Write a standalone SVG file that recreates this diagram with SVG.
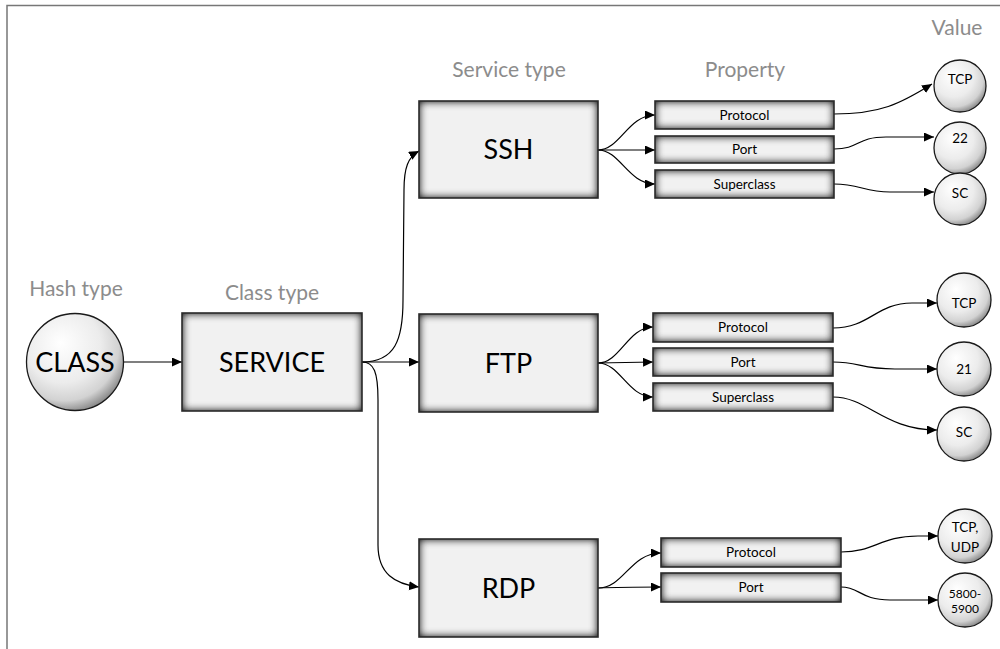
<svg xmlns="http://www.w3.org/2000/svg" width="1000" height="649" viewBox="0 0 1000 649">
  <style>
    text { font-family: Lato, "Liberation Sans", sans-serif; fill: #000; text-anchor: middle; }
    .hdr { font-size: 21px; fill: #8c8c8c; }
    .big { font-size: 27px; }
    .prop { font-size: 13.5px; }
    .val { font-size: 13.5px; }
    .small { font-size: 12px; }
    .frame { stroke: #777; stroke-width: 1.5; fill: none; }
    .box { fill: #f1f1f1; filter: url(#inset); }
    .edge { fill: none; stroke: #2a2a2a; stroke-width: 1.6; }
    .ball { fill: url(#ballGrad); stroke: #1a1a1a; stroke-width: 1.3; }
    .conn { fill: none; stroke: #000; stroke-width: 1.2; marker-end: url(#arrow); }
  </style>
  <defs>
    <!-- soft dark rim inside the box fill -->
    <filter id="inset" x="-10%" y="-30%" width="120%" height="160%" color-interpolation-filters="sRGB">
      <feFlood flood-color="#000" flood-opacity="1"/>
      <feComposite in2="SourceAlpha" operator="out" result="ring"/>
      <feGaussianBlur in="ring" stdDeviation="4" result="blur"/>
      <feComponentTransfer in="blur" result="dim">
        <feFuncA type="linear" slope="1.1"/>
      </feComponentTransfer>
      <feComposite in="dim" in2="SourceAlpha" operator="in" result="shadow"/>
      <feMerge>
        <feMergeNode in="SourceGraphic"/>
        <feMergeNode in="shadow"/>
      </feMerge>
    </filter>
    <radialGradient id="ballGrad" cx="0.4" cy="0.35" r="0.7" fx="0.35" fy="0.3">
      <stop offset="0" stop-color="#ffffff"/>
      <stop offset="0.55" stop-color="#ececec"/>
      <stop offset="0.8" stop-color="#d2d2d2"/>
      <stop offset="1" stop-color="#7a7a7a"/>
    </radialGradient>
    <marker id="arrow" markerUnits="userSpaceOnUse" markerWidth="12" markerHeight="10" refX="10" refY="4.5" orient="auto">
      <path d="M0,0 L10,4.5 L0,9 Z" fill="#000"/>
    </marker>
  </defs>

  <!-- page frame -->
  <path class="frame" d="M7,649 L7,5.5 L1000,5.5"/>

  <!-- column headings -->
  <text class="hdr" x="76" y="296">Hash type</text>
  <text class="hdr" x="272" y="300">Class type</text>
  <text class="hdr" x="509" y="77">Service type</text>
  <text class="hdr" x="745" y="77">Property</text>
  <text class="hdr" x="957" y="35">Value</text>

  <!-- connectors -->
  <g id="connectors">
    <path class="conn" d="M124,362 L182,362"/>
    <path class="conn" d="M362,362 C395,362 403,340 403,300 L404,190 C404,168 408,157 419,151"/>
    <path class="conn" d="M362,362 L419,362"/>
    <path class="conn" d="M362,362 C374,362 378,372 378,400 L378,545 C378,574 395,584 419,587"/>

    <path class="conn" d="M598,150 C620,150 628,115 655,115"/>
    <path class="conn" d="M598,150 L655,150"/>
    <path class="conn" d="M598,150 C620,150 628,184 655,184"/>

    <path class="conn" d="M598,363 C620,363 628,327 653,327"/>
    <path class="conn" d="M598,363 L653,362"/>
    <path class="conn" d="M598,363 C620,363 628,397 653,397"/>

    <path class="conn" d="M598,588 C624,588 630,553 661,553"/>
    <path class="conn" d="M598,588 C620,587 640,587 661,587"/>

    <path class="conn" d="M834,114 C880,114 900,104 932,84"/>
    <path class="conn" d="M834,149 C860,149 856,137 886,137 L934,137"/>
    <path class="conn" d="M834,184 C860,184 864,192 890,192 L934,192"/>

    <path class="conn" d="M833,328 C870,328 876,303 912,303 L937,303"/>
    <path class="conn" d="M833,362 C860,362 860,369 895,369 L937,369"/>
    <path class="conn" d="M833,397 C868,397 884,430 937,430"/>

    <path class="conn" d="M841,552 C875,552 880,536 918,536 L938,536"/>
    <path class="conn" d="M841,587 C860,587 860,600 890,600 L938,600"/>
  </g>

  <!-- hash type -->
  <g id="node-class">
    <circle class="ball" cx="75" cy="362" r="48.5"/>
    <text class="big" x="75" y="372">CLASS</text>
  </g>

  <!-- class type -->
  <g id="node-service">
    <rect class="box" x="182" y="313" width="180" height="98"/>
    <rect class="edge" x="182" y="313" width="180" height="98"/>
    <text class="big" x="272" y="372">SERVICE</text>
  </g>

  <!-- service types -->
  <g id="node-ssh">
    <rect class="box" x="419" y="101" width="179" height="97"/>
    <rect class="edge" x="419" y="101" width="179" height="97"/>
    <text class="big" x="508.5" y="159">SSH</text>
  </g>
  <g id="node-ftp">
    <rect class="box" x="419" y="314" width="179" height="98"/>
    <rect class="edge" x="419" y="314" width="179" height="98"/>
    <text class="big" x="508.5" y="373">FTP</text>
  </g>
  <g id="node-rdp">
    <rect class="box" x="419" y="539" width="179" height="98"/>
    <rect class="edge" x="419" y="539" width="179" height="98"/>
    <text class="big" x="508.5" y="598">RDP</text>
  </g>

  <!-- SSH properties -->
  <g id="ssh-protocol">
    <rect class="box" x="655" y="101" width="179" height="28"/>
    <rect class="edge" x="655" y="101" width="179" height="28"/>
    <text class="prop" x="744.5" y="120">Protocol</text>
  </g>
  <g id="ssh-port">
    <rect class="box" x="655" y="136" width="179" height="27"/>
    <rect class="edge" x="655" y="136" width="179" height="27"/>
    <text class="prop" x="744.5" y="154">Port</text>
  </g>
  <g id="ssh-superclass">
    <rect class="box" x="655" y="170" width="179" height="28"/>
    <rect class="edge" x="655" y="170" width="179" height="28"/>
    <text class="prop" x="744.5" y="189">Superclass</text>
  </g>

  <!-- FTP properties -->
  <g id="ftp-protocol">
    <rect class="box" x="653" y="313" width="180" height="29"/>
    <rect class="edge" x="653" y="313" width="180" height="29"/>
    <text class="prop" x="743" y="332">Protocol</text>
  </g>
  <g id="ftp-port">
    <rect class="box" x="653" y="348" width="180" height="28"/>
    <rect class="edge" x="653" y="348" width="180" height="28"/>
    <text class="prop" x="743" y="367">Port</text>
  </g>
  <g id="ftp-superclass">
    <rect class="box" x="653" y="383" width="180" height="28"/>
    <rect class="edge" x="653" y="383" width="180" height="28"/>
    <text class="prop" x="743" y="402">Superclass</text>
  </g>

  <!-- RDP properties -->
  <g id="rdp-protocol">
    <rect class="box" x="661" y="538" width="180" height="29"/>
    <rect class="edge" x="661" y="538" width="180" height="29"/>
    <text class="prop" x="751" y="557">Protocol</text>
  </g>
  <g id="rdp-port">
    <rect class="box" x="661" y="573" width="180" height="29"/>
    <rect class="edge" x="661" y="573" width="180" height="29"/>
    <text class="prop" x="751" y="592">Port</text>
  </g>

  <!-- values -->
  <g id="val-ssh-tcp">
    <circle class="ball" cx="960" cy="86" r="26"/>
    <text class="val" x="960" y="84">TCP</text>
  </g>
  <g id="val-ssh-22">
    <circle class="ball" cx="960" cy="148" r="26"/>
    <text class="val" x="960" y="143">22</text>
  </g>
  <g id="val-ssh-sc">
    <circle class="ball" cx="960" cy="199" r="26"/>
    <text class="val" x="960" y="198">SC</text>
  </g>
  <g id="val-ftp-tcp">
    <circle class="ball" cx="964" cy="300" r="27"/>
    <text class="val" x="964" y="308">TCP</text>
  </g>
  <g id="val-ftp-21">
    <circle class="ball" cx="964" cy="369" r="27"/>
    <text class="val" x="964" y="374">21</text>
  </g>
  <g id="val-ftp-sc">
    <circle class="ball" cx="964" cy="434" r="27"/>
    <text class="val" x="964" y="437">SC</text>
  </g>
  <g id="val-rdp-proto">
    <circle class="ball" cx="965" cy="536" r="27"/>
    <text class="val" x="965" y="532">TCP,</text>
    <text class="val" x="965" y="552">UDP</text>
  </g>
  <g id="val-rdp-port">
    <circle class="ball" cx="965" cy="600" r="27"/>
    <text class="small" x="965" y="598">5800-</text>
    <text class="small" x="965" y="613">5900</text>
  </g>
</svg>
